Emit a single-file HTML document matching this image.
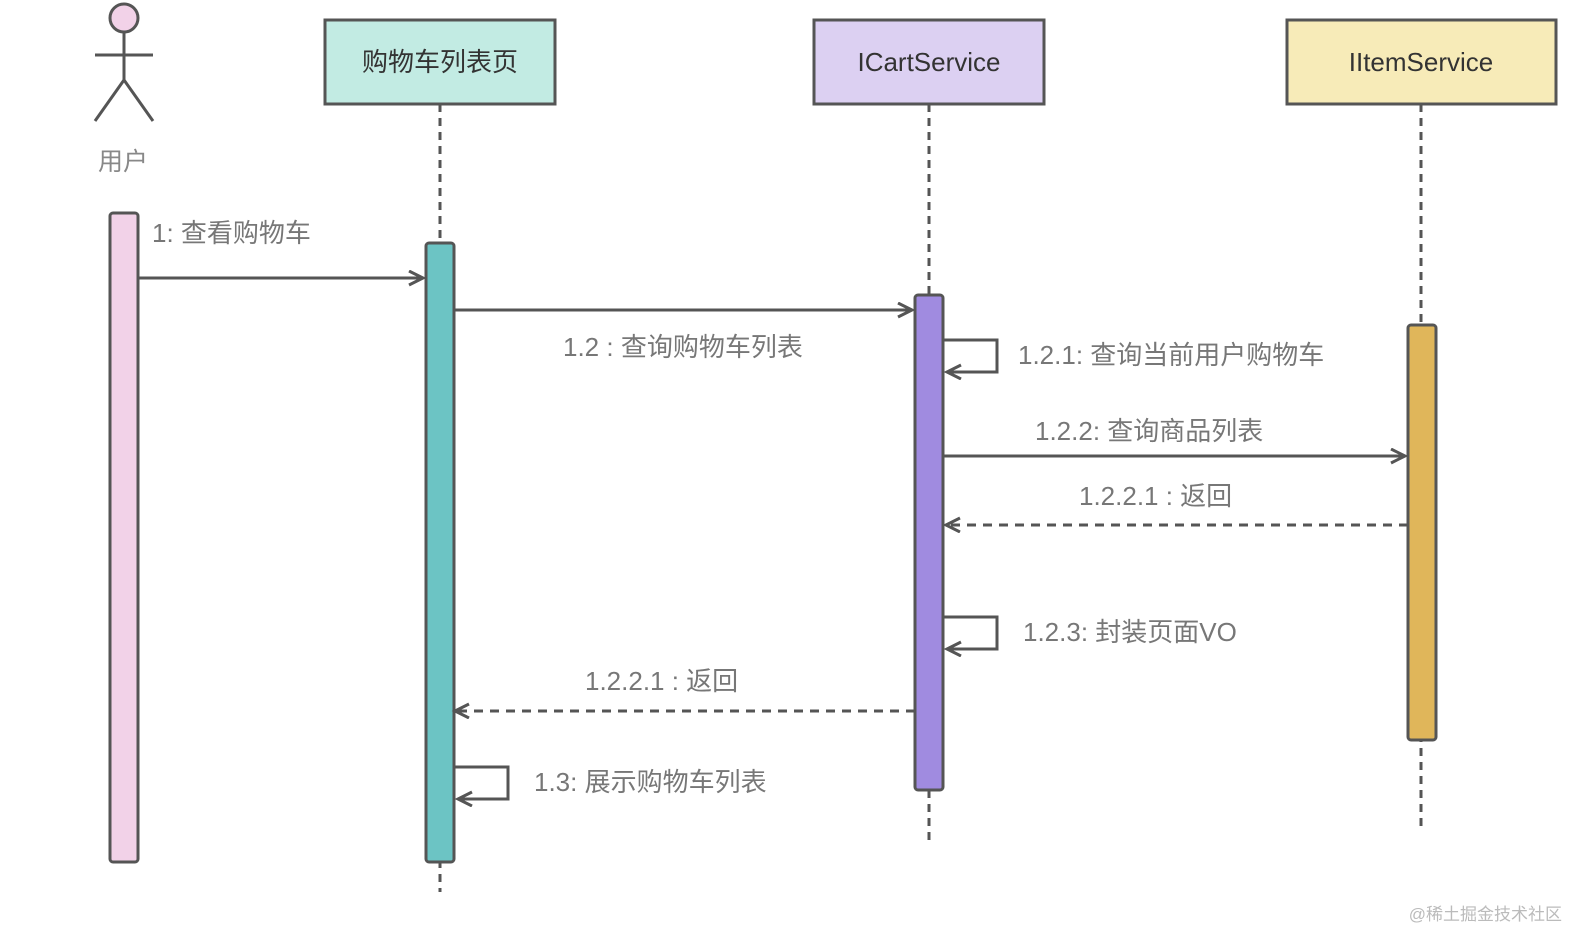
<!DOCTYPE html>
<html><head><meta charset="utf-8"><style>
html,body{margin:0;padding:0;background:#fff;}
text{font-family:"Liberation Sans","Noto Sans CJK SC",sans-serif;}
</style></head><body>
<svg width="1593" height="946" viewBox="0 0 1593 946" xmlns="http://www.w3.org/2000/svg">
<defs>
<marker id="a" markerWidth="20" markerHeight="20" refX="16" refY="8" orient="auto" markerUnits="userSpaceOnUse">
<path d="M2,1 L16,8 L2,15" fill="none" stroke="#555" stroke-width="3"/>
</marker>
</defs>
<g stroke="#555" stroke-width="3" fill="none">
<circle cx="124" cy="18" r="14" fill="#f2d2e8"/>
<line x1="124" y1="32" x2="124" y2="80"/>
<line x1="95" y1="55" x2="153" y2="55"/>
<polyline points="95,121 124,80 153,121"/>
</g>
<text x="123" y="170" font-size="25" fill="#888" text-anchor="middle">用户</text>
<g stroke="#555" stroke-width="3" stroke-dasharray="8,6">
<line x1="440" y1="104" x2="440" y2="892"/>
<line x1="929" y1="104" x2="929" y2="845"/>
<line x1="1421" y1="104" x2="1421" y2="832"/>
</g>
<g stroke="#555" stroke-width="3">
<rect x="325" y="20" width="230" height="84" fill="#c2ebe3"/>
<rect x="814" y="20" width="230" height="84" fill="#dcd0f2"/>
<rect x="1287" y="20" width="269" height="84" fill="#f7ebb8"/>
<rect x="110" y="213" width="28" height="649" rx="3" fill="#f2d2e8"/>
<rect x="426" y="243" width="28" height="619" rx="3" fill="#6cc4c4"/>
<rect x="915" y="295" width="28" height="495" rx="3" fill="#a08be0"/>
<rect x="1408" y="325" width="28" height="415" rx="3" fill="#e0b65a"/>
</g>
<g font-size="26" fill="#333" text-anchor="middle">
<text x="440" y="71">购物车列表页</text>
<text x="929" y="71">ICartService</text>
<text x="1421" y="71">IItemService</text>
</g>
<g stroke="#555" stroke-width="3" fill="none" marker-end="url(#a)">
<line x1="138" y1="278" x2="423" y2="278"/>
<line x1="454" y1="310" x2="912" y2="310"/>
<polyline points="943,340 997,340 997,372 947,372"/>
<line x1="943" y1="456" x2="1405" y2="456"/>
<line x1="1408" y1="525" x2="946" y2="525" stroke-dasharray="9,7"/>
<polyline points="943,617 997,617 997,649 947,649"/>
<line x1="915" y1="711" x2="455" y2="711" stroke-dasharray="9,7"/>
<polyline points="454,767 508,767 508,799 458,799"/>
</g>
<g font-size="26" fill="#777">
<text x="152" y="242">1: 查看购物车</text>
<text x="563" y="356">1.2 : 查询购物车列表</text>
<text x="1018" y="364">1.2.1: 查询当前用户购物车</text>
<text x="1035" y="440">1.2.2: 查询商品列表</text>
<text x="1079" y="505">1.2.2.1 : 返回</text>
<text x="1023" y="641">1.2.3: 封装页面VO</text>
<text x="585" y="690">1.2.2.1 : 返回</text>
<text x="534" y="791">1.3: 展示购物车列表</text>
</g>
<text x="1562" y="920" font-size="17" fill="#bbb" text-anchor="end">@稀土掘金技术社区</text>
</svg>
</body></html>
